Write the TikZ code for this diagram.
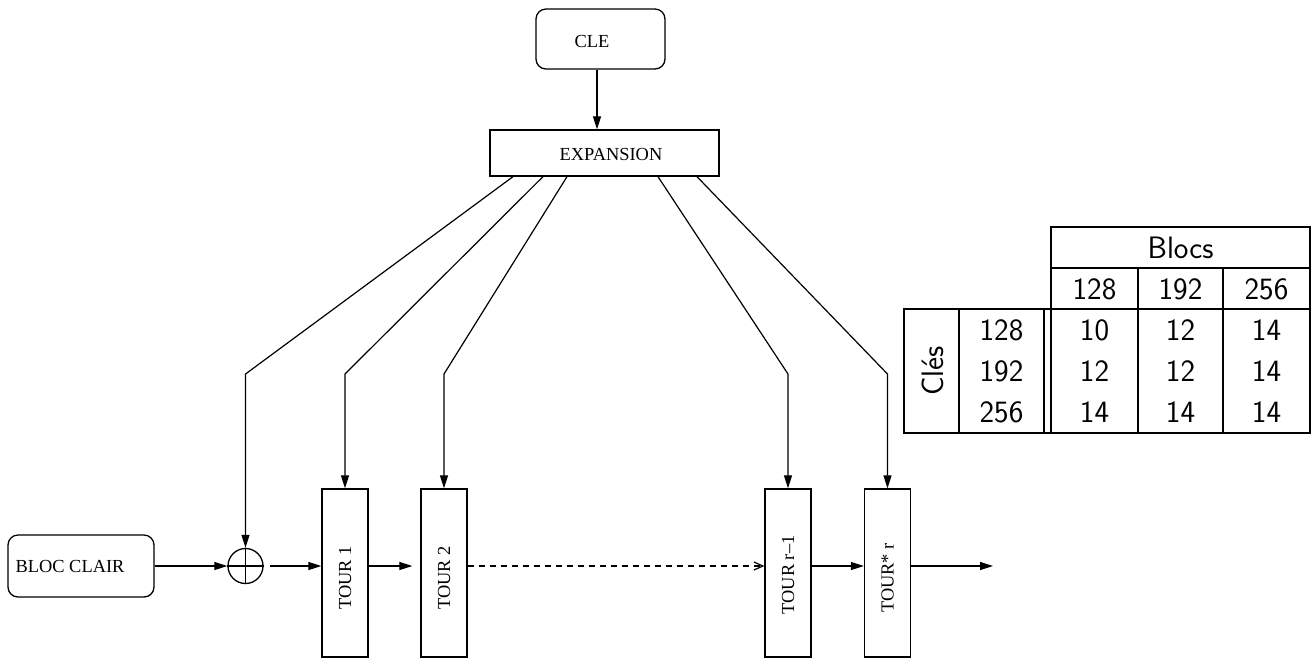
\documentclass[tikz,border=0pt]{standalone}
\usepackage{fontspec}
\setmainfont{Liberation Serif}
\usetikzlibrary{arrows.meta}
\begin{document}
\begin{tikzpicture}[x=0.5pt,y=-0.5pt,
  line width=0.6pt,
  box/.style={draw, line width=0.65pt, inner sep=0pt},
  rbox/.style={box, rounded corners=5pt},
  tour/.style={box, minimum width=23pt, minimum height=84pt, font=\fontsize{9.2}{11}\selectfont},
  txt/.style={inner sep=0pt, font=\fontsize{9.2}{11}\selectfont},
  arr/.style={-{Triangle[length=6.5pt,width=4pt]}},
  openarr/.style={-{Straight Barb[length=4.5pt,width=4pt]}},
  cell/.style={inner sep=0pt, font=\sffamily\fontsize{15.5}{18}\selectfont},
  grid/.style={line width=0.65pt},
]
\useasboundingbox (0,0) rectangle (1314,661);

% key schedule
\node[rbox, minimum width=64.5pt, minimum height=30pt] (cle) at (600.5,39) {};
\node[txt] (cletxt) at (592,41) {CLE};
\node[box, minimum width=114.5pt, minimum height=23pt] (exp) at (604.5,153) {};
\node[txt] (exptxt) at (611,154) {EXPANSION};
\draw[arr] ([xshift=-1.75pt]cle.south) -- ([xshift=-1.75pt]cle.south |- exp.north);

% data path
\node[rbox, minimum width=73pt, minimum height=31pt] (bloc) at (81,566) {};
\node[txt] (bloctxt) at (70,566) {BLOC CLAIR};
\node[draw, circle, line width=0.65pt, minimum size=17.5pt, inner sep=0pt] (xor) at (245.5,566) {};
\draw[line width=0.65pt] (xor.north) -- (xor.south) (xor.west) -- (xor.east);

% rounds (trailing space lowers the rotated label a little)
\node[tour] (t1) at (345,573) {\rotatebox{90}{TOUR 1\hspace*{5pt}}};
\node[tour] (t2) at (444,573) {\rotatebox{90}{TOUR 2\hspace*{5pt}}};
\node[tour] (t3) at (788,573) {\rotatebox{90}{TOUR r--1\hspace*{2pt}}};
\node[tour] (t4) at (887.5,573) {\rotatebox{90}{TOUR* r\hspace*{5pt}}};

\coordinate (lvl) at (0,566);
\coordinate (ky) at (0,374);
\coordinate (out) at (993,566);

\draw[arr] (bloc.east) -- (xor.west);
\draw[arr, shorten <=3pt] (xor.east) -- (lvl -| t1.west);
\draw[arr, shorten >=4pt] (lvl -| t1.east) -- (lvl -| t2.west);
\draw[openarr, dash pattern=on 3pt off 2.5pt] (lvl -| t2.east) -- (lvl -| t3.west);
\draw[arr] (lvl -| t3.east) -- (lvl -| t4.west);
\draw[arr] (lvl -| t4.east) -- (out);

% round keys
\draw[arr] ([xshift=-45.75pt]exp.south) -- (xor |- ky) -- (xor.north);
\draw[arr] ([xshift=-30.75pt]exp.south) -- (t1 |- ky) -- (t1.north);
\draw[arr] ([xshift=-18.75pt]exp.south) -- (t2 |- ky) -- (t2.north);
\draw[arr] ([xshift=26.75pt]exp.south) -- (t3 |- ky) -- (t3.north);
\draw[arr] ([xshift=46.25pt]exp.south) -- (t4 |- ky) -- (t4.north);

% table of round counts
\draw[grid] (1051,227) rectangle (1310,433);
\draw[grid] (1051,268) -- (1310,268);
\draw[grid] (904,309) rectangle (1310,433);
\draw[grid] (1138,268) -- (1138,433) (1223,268) -- (1223,433);
\draw[grid] (959,309) -- (959,433) (1044,309) -- (1044,433);

\node[cell] (blocs) at (1180.5,247.5) {Blocs};
\node[cell] (hb1) at (1094.5,289) {128};
\node[cell] (hb2) at (1180.5,289) {192};
\node[cell] (hb3) at (1266.5,289) {256};
\node[cell, rotate=90] (cles) at (933,371) {Clés};
\node[cell] (k1) at (1001.5,330) {128};
\node[cell] (k2) at (1001.5,371) {192};
\node[cell] (k3) at (1001.5,412) {256};

\node[cell] (c11) at (1094.5,330) {10};
\node[cell] (c12) at (1180.5,330) {12};
\node[cell] (c13) at (1266.5,330) {14};
\node[cell] (c21) at (1094.5,371) {12};
\node[cell] (c22) at (1180.5,371) {12};
\node[cell] (c23) at (1266.5,371) {14};
\node[cell] (c31) at (1094.5,412) {14};
\node[cell] (c32) at (1180.5,412) {14};
\node[cell] (c33) at (1266.5,412) {14};
\end{tikzpicture}
\end{document}
